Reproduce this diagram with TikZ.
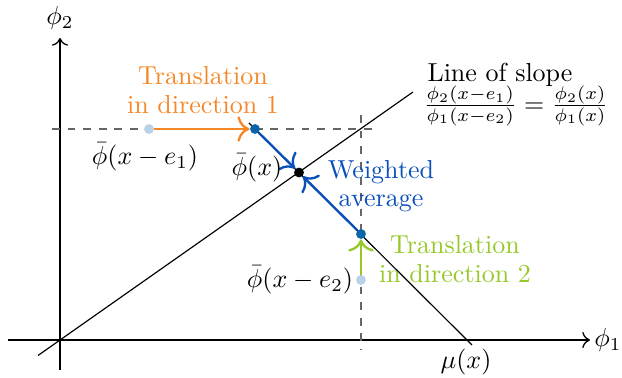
\documentclass[tikz,border=0pt]{standalone}
\usetikzlibrary{arrows.meta}
\definecolor{orng}{RGB}{245,135,40}
\definecolor{blu}{RGB}{10,80,185}
\definecolor{grn}{RGB}{150,200,40}
\definecolor{lblu}{RGB}{185,210,232}
\definecolor{dblu}{RGB}{10,100,170}
\begin{document}
\begin{tikzpicture}[x=0.3846pt,y=-0.3846pt,
  axis/.style={-{To[scale=1.1]},line width=0.5pt},
  thin line/.style={line width=0.45pt},
  guide/.style={dashed,gray!80!black,line width=0.6pt},
  pt/.style={circle,inner sep=0pt,minimum size=3.8pt},
  move/.style={-{To[scale=1.3]},line width=0.9pt}]
\useasboundingbox (0,0) rectangle (622,378);
% axes
\coordinate (xs) at (8,340); \coordinate (xe) at (590,340);
\coordinate (ys) at (60,370); \coordinate (ye) at (60,38);
\draw[axis] (xs) -- (xe);
\draw[axis] (ys) -- (ye);
\node (phi1) at (608,340) {$\phi_1$};
\node (phi2) at (60,18) {$\phi_2$};
% slope line
\coordinate (ls) at (38,355.5); \coordinate (le) at (413,92);
\draw[thin line] (ls) -- (le);
% dashed guides
\coordinate (hs) at (52,129); \coordinate (he) at (375,129);
\coordinate (vs) at (361,115); \coordinate (ve) at (361,350);
\draw[guide] (hs) -- (he);
\draw[guide] (vs) -- (ve);
% line through points to mu(x)
\coordinate (ms) at (249,123); \coordinate (me) at (472,345);
\draw[thin line] (ms) -- (me);
% points
\node[pt,fill=lblu] (p1) at (149,129) {};
\node[pt,fill=dblu] (q1) at (255,129) {};
\node[pt,fill=lblu] (p2) at (361,280) {};
\node[pt,fill=dblu] (q2) at (361,234) {};
\node[pt,fill=black] (c) at (299,172.5) {};
% moves
\draw[move,orng] (p1) -- (q1);
\draw[move,grn] (p2) -- (q2);
\draw[move,blu] (q1) -- (c);
\draw[move,blu] (q2) -- (c);
% labels
\node[orng,align=center] (t1) at (203,90) {Translation\\[-1pt]in direction 1};
\node (l1) at (145,157) {$\bar\phi(x-e_1)$};
\node (lc) at (257,168) {$\bar\phi(x)$};
\node[blu,align=center] (wa) at (381,186) {Weighted\\[-1pt]average};
\node[grn,align=center] (t2) at (455,259) {Translation\\[-1pt]in direction 2};
\node (l2) at (300,280) {$\bar\phi(x-e_2)$};
\node (ls1) at (500,75) {Line of slope};
\node (ls2) at (516,106) {$\frac{\phi_2(x-e_1)}{\phi_1(x-e_2)}=\frac{\phi_2(x)}{\phi_1(x)}$};
\node (mu) at (466,362) {$\mu(x)$};
\end{tikzpicture}
\end{document}
